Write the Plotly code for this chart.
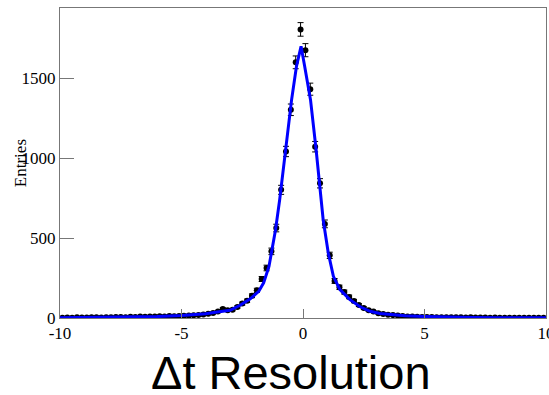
import numpy as np
import plotly.graph_objects as go

# Histogram bin centres (100 bins of width 0.2 over [-10, 10])
bin_centers = [round(-9.9 + 0.2 * k, 1) for k in range(100)]

# Entries per bin
counts_left_tail = [2, 3, 2, 4, 3, 3, 5, 4, 3, 5, 4, 6, 7, 5, 8, 7, 9, 8, 10, 9, 11, 10, 12, 11, 13]
counts_left_core = [14, 15, 17, 19, 22, 26, 31, 40, 57, 48, 52, 69, 90, 108, 139, 173, 244, 313, 417, 563,
                    802, 1042, 1303, 1600, 1806]
counts_right_core = [1676, 1432, 1072, 843, 589, 392, 232, 192, 162, 132, 106, 81, 63, 48, 40, 30, 25, 21,
                     18, 15, 12, 10, 9, 8, 7]
counts_right_tail = [6, 6, 5, 5, 4, 5, 4, 4, 3, 4, 3, 3, 3, 2, 3, 2, 2, 2, 2, 1, 2, 1, 1, 1, 1]
counts = counts_left_tail + counts_left_core + counts_right_core + counts_right_tail
errors = list(np.sqrt(counts))

# Fit curve
fit_x = [-10, -9, -8, -7, -6, -5, -4.5, -4, -3.6, -3.0, -2.59, -2.17, -1.82, -1.62, -1.4, -1.27, -1.13,
         -0.96, -0.72, -0.47, -0.27, -0.08, 0.07, 0.31, 0.54, 0.75, 0.83, 1.04, 1.25, 1.52, 1.93, 2.35,
         2.76, 3.17, 3.7, 4.2, 5, 6, 7, 8, 9, 10]
fit_y = [2, 3, 4, 6, 9, 15, 20, 27, 36, 48, 80, 120, 167, 220, 323, 428, 552,
         740, 1053, 1365, 1574, 1700, 1574, 1365, 1053, 740, 615, 407, 261, 178, 115, 70,
         42, 28, 20, 14, 9, 5, 3, 2, 1, 1]

x_ticks = [-10, -5, 0, 5, 10]
y_ticks = [0, 500, 1000, 1500]

SERIF = "Liberation Serif"

fig = go.Figure()
fig.add_trace(go.Scatter(
    x=bin_centers, y=counts, mode="markers",
    marker=dict(color="black", size=6, symbol="circle"),
    error_y=dict(type="data", array=errors, color="black", thickness=1, width=3),
    showlegend=False,
))
fig.add_trace(go.Scatter(
    x=fit_x, y=fit_y, mode="lines",
    line=dict(color="#0000ff", width=3),
    showlegend=False,
))

axis_color = "#777777"
tickfont = dict(family=SERIF, size=17, color="black")
fig.update_layout(
    width=549, height=395,
    margin=dict(l=60, r=3, t=8, b=76.5, autoexpand=False),
    paper_bgcolor="white", plot_bgcolor="white",
    font=dict(family=SERIF, size=17, color="black"),
    xaxis=dict(
        range=[-10, 10], tickvals=x_ticks, ticktext=[str(v) for v in x_ticks],
        ticks="inside", ticklen=9, tickcolor=axis_color, tickwidth=1, tickfont=tickfont,
        ticklabeloverflow="allow", automargin=False,
        showline=True, linecolor=axis_color, linewidth=1, mirror=True,
        showgrid=False, zeroline=False,
    ),
    yaxis=dict(
        range=[0, 1940], tickvals=y_ticks, ticktext=[str(v) for v in y_ticks],
        ticks="inside", ticklen=14, tickcolor=axis_color, tickwidth=1, tickfont=tickfont,
        automargin=False,
        showline=True, linecolor=axis_color, linewidth=1, mirror=True,
        showgrid=False, zeroline=False,
    ),
    annotations=[
        dict(text="Entries", xref="paper", yref="paper", x=-0.082, y=0.5,
             xanchor="center", yanchor="middle", textangle=-90, showarrow=False,
             font=dict(family=SERIF, size=17, color="black")),
        dict(text="Δt Resolution", xref="paper", yref="paper", x=(291 - 60) / 486, y=-0.175,
             xanchor="center", yanchor="middle", showarrow=False,
             font=dict(family="Liberation Sans", size=47, color="black")),
    ],
)

fig.write_html("out.html")
